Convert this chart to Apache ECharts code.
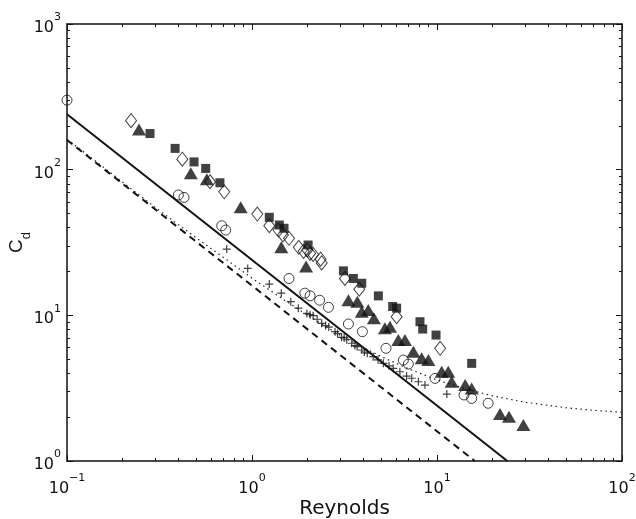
<!DOCTYPE html>
<html>
<head>
<meta charset="utf-8">
<script src="https://cdn.jsdelivr.net/npm/echarts@6/dist/echarts.min.js"></script>
<style>
html,body{margin:0;padding:0;background:#fff;}
#chart{width:636px;height:519px;}
</style>
</head>
<body>
<div id="chart"></div>
<script>
// Axis ranges / tick labels
var xMajorTicks = [0.1, 1, 10, 100];
var yMajorTicks = [1, 10, 100, 1000];
var xMinorTicks = [0.2,0.3,0.4,0.5,0.6,0.7,0.8,0.9,2,3,4,5,6,7,8,9,20,30,40,50,60,70,80,90];
var yMinorTicks = [2,3,4,5,6,7,8,9,20,30,40,50,60,70,80,90,200,300,400,500,600,700,800,900];
var xTitle = 'Reynolds';
var yTitle = 'C';
var yTitleSub = 'd';

// Curves
var solidLine = [[0.1, 240], [24, 1]];
var dashedLine = [[0.1, 160], [16, 1]];
var dottedCurve = [[0.1,162],[0.15,109],[0.2,82],[0.3,55],[0.5,34],[0.7,25],[1,18],[1.5,12.7],[2,10],[3,7.3],[5,5.2],[7,4.3],[10,3.6],[15,3.07],[20,2.8],[30,2.53],[50,2.32],[70,2.23],[100,2.16]];

// Markers
var circles = [[0.1,300],[0.40,67],[0.429,64.5],[0.686,41.2],[0.721,38.5],[1.585,17.9],[1.93,14.2],[2.06,13.6],[2.32,12.7],[2.59,11.35],[3.32,8.72],[3.95,7.72],[5.3,5.94],[6.58,4.93],[7.0,4.63],[9.76,3.69],[14.0,2.84],[15.4,2.69],[18.9,2.49]];
var diamonds = [[0.222,217],[0.42,118],[0.593,82.6],[0.708,70.5],[1.068,49.6],[1.24,41.2],[1.39,38.5],[1.47,35.6],[1.585,33.8],[1.79,29.3],[1.9,27.5],[1.99,28.1],[2.06,26.6],[2.14,26.2],[2.35,24.3],[2.38,22.9],[3.18,17.9],[3.8,15.1],[6.05,9.78],[10.4,5.94]];
var squares = [[0.281,177],[0.384,140],[0.486,113],[0.562,102],[0.671,81.3],[1.24,47.1],[1.405,41.7],[1.49,39.6],[2.01,30.4],[3.12,20.2],[3.53,17.9],[3.92,16.6],[4.82,13.6],[5.76,11.5],[6.05,11.2],[8.09,9.04],[8.37,8.05],[9.88,7.32],[15.4,4.68]];
var triangles = [[0.245,189],[0.467,94.4],[0.57,85.8],[0.869,55.1],[1.44,29.3],[1.96,21.6],[3.32,12.7],[3.71,12.4],[3.92,10.6],[4.25,10.9],[4.56,9.54],[5.23,8.14],[5.57,8.35],[6.18,6.77],[6.71,6.77],[7.45,5.63],[8.26,5.07],[8.98,4.93],[10.6,4.1],[11.5,4.1],[12.0,3.5],[14.2,3.32],[15.4,3.15],[21.9,2.1],[24.5,2.01],[29.3,1.77]];
var crosses = [[0.73,28.5],[0.948,21.0],[1.24,16.4],[1.44,14.2],[1.62,12.4],[1.78,11.2],[1.98,10.3],[2.06,10.1],[2.14,9.94],[2.25,9.4],[2.38,8.81],[2.5,8.5],[2.6,8.3],[2.81,7.72],[2.9,7.5],[3.05,7.06],[3.15,7.0],[3.25,6.8],[3.46,6.43],[3.6,6.2],[3.7,6.1],[3.92,5.78],[4.05,5.6],[4.2,5.5],[4.52,5.2],[4.8,4.95],[5.13,4.68],[5.5,4.5],[5.8,4.33],[6.3,4.1],[6.85,3.83],[7.3,3.7],[7.93,3.5],[8.61,3.32],[11.3,2.88]];

var FONT = 'DejaVu Sans';

function expLabel(v) {
  var e = Math.round(Math.log(v) / Math.LN10);
  return '{b|10}{s|' + (e < 0 ? '\u2212' + (-e) : e) + '}';
}
var richLab = {
  b: {fontSize: 16, fontFamily: FONT, color: '#111', lineHeight: 24, verticalAlign: 'bottom'},
  s: {fontSize: 11, fontFamily: FONT, color: '#111', lineHeight: 10, verticalAlign: 'top'}
};

function mkX(pos, minor, labels) {
  return {
    type: 'log', logBase: 10, min: 0.1, max: 100, position: pos, gridIndex: 0,
    axisLine: {show: !minor, onZero: false, lineStyle: {color: '#111', width: 1.5}},
    axisTick: minor ? {show: true, inside: true, length: 3, customValues: xMinorTicks, lineStyle: {color: '#111', width: 1}}
                    : {show: true, inside: true, length: 6, customValues: xMajorTicks, lineStyle: {color: '#111', width: 1}},
    axisLabel: labels ? {show: true, margin: 12, formatter: expLabel, rich: richLab, customValues: xMajorTicks} : {show: false},
    splitLine: {show: false}, minorTick: {show: false},
    name: labels ? xTitle : '', nameLocation: 'middle', nameGap: 38, nameMoveOverlap: false,
    nameTextStyle: {fontSize: 20, fontFamily: FONT, color: '#111'}
  };
}
function mkY(pos, minor, labels) {
  return {
    type: 'log', logBase: 10, min: 1, max: 1000, position: pos, gridIndex: 0,
    axisLine: {show: !minor, onZero: false, lineStyle: {color: '#111', width: 1.5}},
    axisTick: minor ? {show: true, inside: true, length: 3, customValues: yMinorTicks, lineStyle: {color: '#111', width: 1}}
                    : {show: true, inside: true, length: 6, customValues: yMajorTicks, lineStyle: {color: '#111', width: 1}},
    axisLabel: labels ? {show: true, margin: 6, formatter: expLabel, rich: richLab, customValues: yMajorTicks} : {show: false},
    splitLine: {show: false}, minorTick: {show: false},
    name: labels ? '{c|' + yTitle + '}{d|' + yTitleSub + '}' : '', nameLocation: 'middle', nameGap: 34, nameMoveOverlap: false,
    nameTextStyle: {rich: {
      c: {fontSize: 19, fontFamily: 'Liberation Sans', color: '#111', lineHeight: 26, verticalAlign: 'top'},
      d: {fontSize: 13, fontFamily: 'Liberation Sans', color: '#111', lineHeight: 12, verticalAlign: 'bottom'}
    }}
  };
}

var chart = echarts.init(document.getElementById('chart'), null, {renderer: 'canvas'});
var crossPath = 'path://M0,5L10,5M5,0L5,10';

chart.setOption({
  animation: false,
  backgroundColor: '#fff',
  grid: {left: 67, right: 14, top: 24, bottom: 58, containLabel: false, outerBoundsMode: 'none'},
  xAxis: [mkX('bottom', false, true), mkX('bottom', true, false), mkX('top', false, false), mkX('top', true, false)],
  yAxis: [mkY('left', false, true), mkY('left', true, false), mkY('right', false, false), mkY('right', true, false)],
  series: [
    {type: 'line', data: solidLine, showSymbol: false, symbol: 'none', lineStyle: {color: '#111', width: 2}, clip: true, z: 2},
    {type: 'line', data: dashedLine, showSymbol: false, symbol: 'none', lineStyle: {color: '#111', width: 2, type: [7, 5]}, clip: true, z: 2},
    {type: 'line', data: dottedCurve, showSymbol: false, symbol: 'none', smooth: false, lineStyle: {color: '#222', width: 1.2, type: [1.5, 3.5]}, clip: true, z: 2},
    {type: 'scatter', data: crosses, symbol: crossPath, symbolSize: 8, itemStyle: {color: 'none', borderColor: '#111', borderWidth: 1.2}, z: 3},
    {type: 'scatter', data: circles, symbol: 'circle', symbolSize: 10, itemStyle: {color: 'rgba(0,0,0,0)', borderColor: '#111', borderWidth: 1}, z: 3},
    {type: 'scatter', data: diamonds, symbol: 'diamond', symbolSize: [11, 14], itemStyle: {color: 'rgba(0,0,0,0)', borderColor: '#111', borderWidth: 1}, z: 3},
    {type: 'scatter', data: squares, symbol: 'rect', symbolSize: 9, itemStyle: {color: '#111'}, z: 3},
    {type: 'scatter', data: triangles, symbol: 'triangle', symbolSize: [14, 12], itemStyle: {color: '#111'}, z: 3}
  ]
});
</script>
</body>
</html>
